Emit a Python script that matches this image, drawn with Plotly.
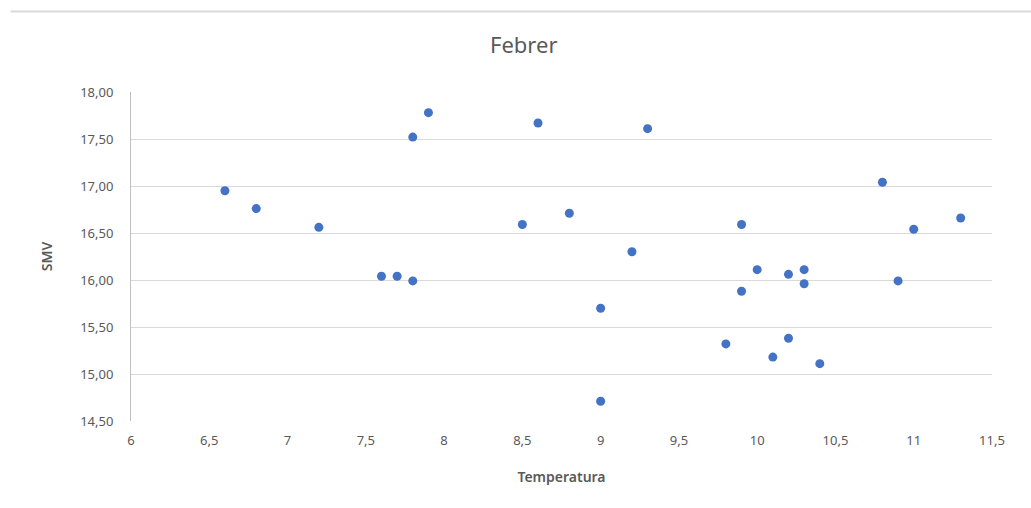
import plotly.graph_objects as go

temperatura = [6.6, 6.8, 7.2, 7.6, 7.7, 7.8, 7.8, 7.9, 8.5, 8.6, 8.8, 9.0, 9.0, 9.2, 9.3,
               9.8, 9.9, 9.9, 10.0, 10.1, 10.2, 10.2, 10.3, 10.3, 10.4, 10.8, 10.9, 11.0, 11.3]
smv = [16.95, 16.76, 16.56, 16.04, 16.04, 15.99, 17.52, 17.78, 16.59, 17.67, 16.71, 15.70, 14.71, 16.30, 17.61,
       15.32, 16.59, 15.88, 16.11, 15.18, 16.06, 15.38, 16.11, 15.96, 15.11, 17.04, 15.99, 16.54, 16.66]

title_text = "Febrer"
x_title = "Temperatura"
y_title = "SMV"

fig = go.Figure()
fig.add_trace(go.Scatter(
    x=temperatura, y=smv, mode="markers",
    marker=dict(color="#4472C4", size=9, line=dict(width=0)),
    showlegend=False,
))

font_family = "Noto Sans, Open Sans, sans-serif"
fig.update_layout(
    width=1031, height=508,
    margin=dict(l=131, r=39, t=92, b=87),
    paper_bgcolor="white", plot_bgcolor="white",
    separators=",.",
    font=dict(family=font_family, color="#595959", size=13),
    title=dict(text=title_text, x=0.508, xanchor="center", y=0.91, yanchor="middle",
               font=dict(size=22, color="#595959", family=font_family)),
    xaxis=dict(range=[6, 11.5], dtick=0.5, tick0=6, showgrid=False, zeroline=False,
               showline=False, ticks="", ticklabelstandoff=10,
               tickfont=dict(size=13, color="#595959"),
               title=dict(text=x_title, font=dict(size=14, color="#595959", weight=600), standoff=24)),
    yaxis=dict(range=[14.5, 18], dtick=0.5, tick0=14.5, tickformat=".2f",
               showgrid=True, gridcolor="#D9D9D9", gridwidth=1, zeroline=False,
               showline=True, linecolor="#BFBFBF", linewidth=1, ticks="",
               ticklabelstandoff=14,
               tickfont=dict(size=13, color="#595959"),
               title=dict(text=y_title, font=dict(size=14, color="#595959", weight=600), standoff=24)),
    shapes=[dict(type="line", xref="paper", yref="paper", x0=-0.14, x1=1.05,
                 y0=1.245, y1=1.245, line=dict(color="#D9D9D9", width=2))],
)

fig.write_html("out.html")
